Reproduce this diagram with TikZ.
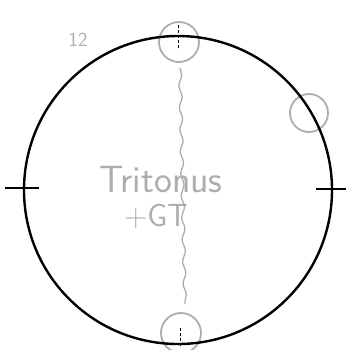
\documentclass[tikz,border=0pt]{standalone}
\usepackage{tikz}
\usetikzlibrary{calc}
\usetikzlibrary{decorations.pathmorphing}
\definecolor{pencil}{gray}{0.68}
\newcommand{\markradius}{40pt}
\tikzset{markcirc/.style={circle, draw=pencil, line width=1.8pt, fill=none, inner sep=0pt, minimum width=\markradius}}
\tikzset{pencillabel/.style={text=pencil, font=\sffamily\fontsize{38}{42}\selectfont, inner sep=0pt, anchor=base}}

\begin{document}
\begin{tikzpicture}[x=1pt,y=-1pt]
\useasboundingbox (0,0) rectangle (350,349);

\node[markcirc] (top) at (179,42) {};
\node[markcirc] (bot) at (181,333) {};
\node[markcirc, minimum width=38pt] (side) at (309,113) {};

\draw[line width=2.4pt] (178,190) circle (154);

\draw[line width=1.6pt] (5,188) -- ++ (34,0);
\draw[line width=1.6pt] (316,189) -- ++ (30,0);

\draw[densely dashed, line width=0.9pt] (178,25) -- ++ (0,25);
\draw[densely dashed, line width=0.9pt] (180,328) -- ++ (0,18);

\draw[pencil, line width=1.3pt, decorate, decoration={snake, amplitude=1.5pt, segment length=22pt}] ($(top.south)+(1,5)$) -- ($(bot.north)+(4,-8)$);

\node[pencillabel] (tri) at (161,192) {Tritonus};
\node[pencillabel, font=\sffamily\fontsize{32}{36}\selectfont] (gt) at (156,226) {+GT};
\node[pencillabel, font=\sffamily\fontsize{20}{22}\selectfont] (num) at (78,46) {12};
\end{tikzpicture}
\end{document}
